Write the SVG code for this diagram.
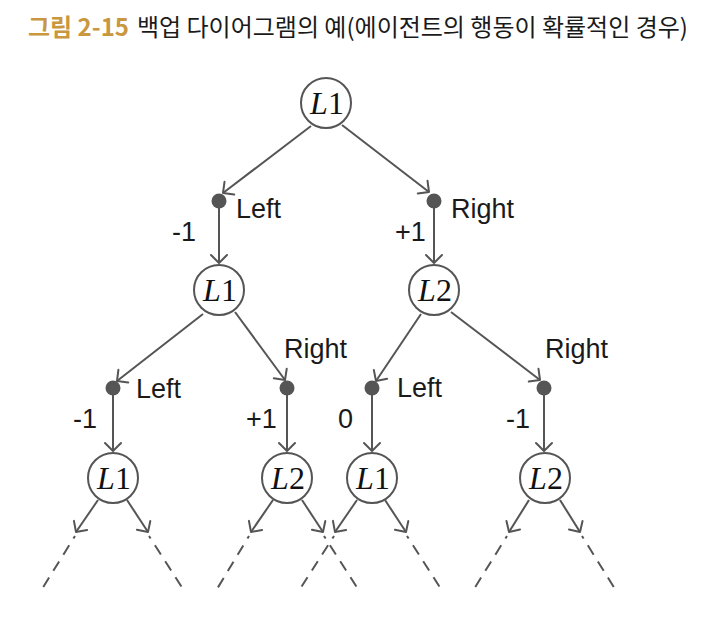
<svg xmlns="http://www.w3.org/2000/svg" width="717" height="624" viewBox="0 0 717 624">
<style>
.t{font-family:"Noto Sans CJK KR","Noto Sans",sans-serif;font-size:24px;fill:#1a1a1a}
.tb{font-family:"Noto Sans CJK KR","Noto Sans",sans-serif;font-size:24px;font-weight:bold;fill:#c9973f}
.st{fill:#fff;stroke:#555;stroke-width:2}
.dot{fill:#555}
.m{font-family:"Liberation Serif","Times New Roman",serif;font-size:32px;fill:#111;text-anchor:middle}
.m .i{font-style:italic}
.lb{font-family:"Liberation Sans",Arial,sans-serif;font-size:27px;fill:#1a1a1a}
.e{stroke:#555;stroke-width:2;fill:none;marker-end:url(#ah)}
.d{stroke:#555;stroke-width:2;fill:none;stroke-dasharray:11 8;stroke-dashoffset:8}
</style>
<defs>
<marker id="ah" markerUnits="userSpaceOnUse" viewBox="-12 -12 24 24" refX="0" refY="0" markerWidth="24" markerHeight="24" orient="auto">
<path d="M-8,-8 L0,0 L-8,8" fill="none" stroke="#555" stroke-width="2" stroke-linejoin="round" stroke-linecap="round"/>
</marker>
</defs>
<rect width="717" height="624" fill="#fff"/>
<g id="title">
<text x="28" y="36"><tspan class="tb">그림 2-15</tspan><tspan class="t" dx="8">백업 다이어그램의 예(에이전트의 행동이 확률적인 경우)</tspan></text>
</g>
<g id="connectors">
<line class="e" x1="311" y1="126" x2="223" y2="193"/>
<line class="e" x1="342" y1="125" x2="429" y2="192"/>
<line class="e" x1="219" y1="208" x2="219" y2="263"/>
<line class="e" x1="434" y1="208" x2="434" y2="263"/>
<line class="e" x1="203" y1="314" x2="117" y2="381"/>
<line class="e" x1="235" y1="312" x2="285" y2="380"/>
<line class="e" x1="421" y1="314" x2="376" y2="381"/>
<line class="e" x1="451" y1="312" x2="540" y2="380"/>
<line class="e" x1="113" y1="395" x2="113" y2="451"/>
<line class="e" x1="287" y1="395" x2="287" y2="451"/>
<line class="e" x1="372" y1="395" x2="372" y2="451"/>
<line class="e" x1="544" y1="395" x2="544" y2="451"/>
<line class="e" x1="98" y1="500" x2="76" y2="532"/>
<line class="e" x1="127" y1="500" x2="148" y2="532"/>
<line class="e" x1="273" y1="500" x2="251" y2="532"/>
<line class="e" x1="302" y1="500" x2="323" y2="532"/>
<line class="e" x1="357" y1="500" x2="335" y2="532"/>
<line class="e" x1="385" y1="500" x2="406" y2="532"/>
<line class="e" x1="529" y1="500" x2="509" y2="532"/>
<line class="e" x1="560" y1="500" x2="580" y2="532"/>
<line class="d" x1="75" y1="536" x2="42" y2="589"/>
<line class="d" x1="149" y1="536" x2="183" y2="589"/>
<line class="d" x1="249" y1="536" x2="217" y2="589"/>
<line class="d" x1="324" y1="536" x2="358" y2="589"/>
<line class="d" x1="334" y1="536" x2="300" y2="589"/>
<line class="d" x1="407" y1="536" x2="441" y2="589"/>
<line class="d" x1="507" y1="536" x2="474" y2="589"/>
<line class="d" x1="582" y1="536" x2="615" y2="589"/>
<text class="lb" x="172" y="241">-1</text>
<text class="lb" x="395" y="241">+1</text>
<text class="lb" x="73" y="428">-1</text>
<text class="lb" x="246" y="428">+1</text>
<text class="lb" x="338" y="428">0</text>
<text class="lb" x="506" y="428">-1</text>
</g>
<g id="root"><circle class="st" cx="326" cy="103" r="25"/><text class="m" x="327" y="114"><tspan class="i">L</tspan>1</text></g>
<g id="a_left"><circle class="dot" cx="219" cy="201" r="7.5"/><text class="lb" x="236" y="218">Left</text></g>
<g id="a_right"><circle class="dot" cx="434" cy="201" r="7.5"/><text class="lb" x="451" y="218">Right</text></g>
<g id="s_l1"><circle class="st" cx="219" cy="290" r="25"/><text class="m" x="220" y="301"><tspan class="i">L</tspan>1</text></g>
<g id="s_l2"><circle class="st" cx="434" cy="290" r="25"/><text class="m" x="435" y="301"><tspan class="i">L</tspan>2</text></g>
<g id="a_l1_left"><circle class="dot" cx="113" cy="388" r="7.5"/><text class="lb" x="136" y="398">Left</text></g>
<g id="a_l1_right"><circle class="dot" cx="287" cy="388" r="7.5"/><text class="lb" x="284" y="358">Right</text></g>
<g id="a_l2_left"><circle class="dot" cx="372" cy="388" r="7.5"/><text class="lb" x="397" y="397">Left</text></g>
<g id="a_l2_right"><circle class="dot" cx="544" cy="388" r="7.5"/><text class="lb" x="545" y="358">Right</text></g>
<g id="s_ll"><circle class="st" cx="113" cy="478" r="25"/><text class="m" x="114" y="489"><tspan class="i">L</tspan>1</text></g>
<g id="s_lr"><circle class="st" cx="287" cy="478" r="25"/><text class="m" x="288" y="489"><tspan class="i">L</tspan>2</text></g>
<g id="s_rl"><circle class="st" cx="372" cy="478" r="25"/><text class="m" x="373" y="489"><tspan class="i">L</tspan>1</text></g>
<g id="s_rr"><circle class="st" cx="545" cy="478" r="25"/><text class="m" x="546" y="489"><tspan class="i">L</tspan>2</text></g>
</svg>
